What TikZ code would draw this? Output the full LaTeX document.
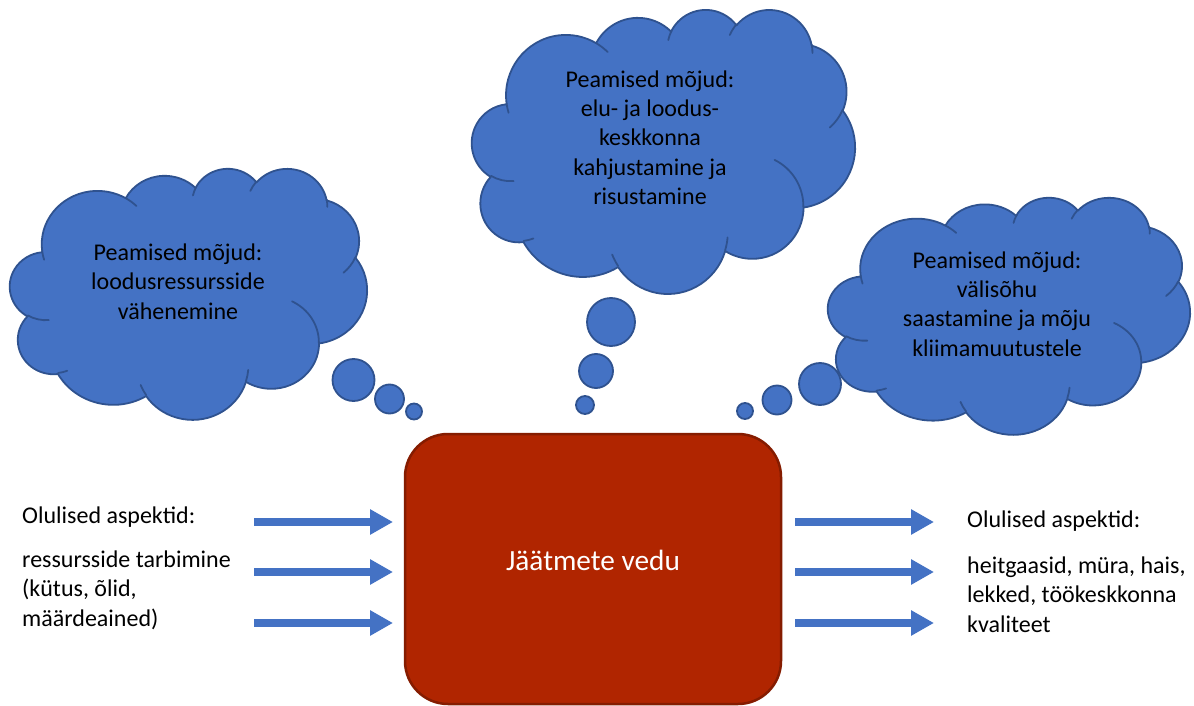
\documentclass[tikz,border=0pt]{standalone}
\usepackage{fontspec}
\setmainfont{Carlito}
\usetikzlibrary{arrows.meta}
\definecolor{cloudblue}{RGB}{68,114,196}
\definecolor{cloudedge}{RGB}{47,82,143}
\definecolor{boxred}{RGB}{176,37,0}
\definecolor{boxedge}{RGB}{133,28,0}
\tikzset{
  cloudshape/.style={fill=cloudblue, draw=cloudedge, line width=1.8pt, line join=round},
  cloudinner/.style={draw=cloudedge, line width=1.8pt, line cap=round},
  bubble/.style={circle, fill=cloudblue, draw=cloudedge, line width=1.8pt, inner sep=0pt},
  procbox/.style={rectangle, rounded corners=43pt, fill=boxred, draw=boxedge, line width=2.5pt,
    text=white, font=\fontsize{29.3}{35}\selectfont, text height=21pt, text depth=18pt},
  txt/.style={inner sep=0pt, font=\fontsize{24}{29.3}\selectfont, text=black},
  blockarrow/.style={draw=cloudblue, line width=8pt, -{Triangle[length=23pt,width=24pt]}}
}
% Office cloud shape: #1,#2 = top-left (px), #3,#4 = width, height (px)
\newcommand\officecloud[4]{%
  \pgfmathsetmacro\ocsx{#3/43.2}%
  \pgfmathsetmacro\ocsy{#4/43.2}%
  \begin{scope}[shift={(#1pt,-#2pt)}, x=\ocsx pt, y=-\ocsy pt]
    \filldraw[cloudshape] (3.9,14.37)
      arc[start angle=172.254, delta angle=128.110, x radius=6.753, y radius=9.19]
      arc[start angle=-152.019, delta angle=106.560, x radius=5.333, y radius=7.267]
      arc[start angle=-153.494, delta angle=116.170, x radius=4.365, y radius=5.945]
      arc[start angle=-139.715, delta angle=129.503, x radius=4.857, y radius=6.595]
      arc[start angle=-74.768, delta angle=97.976, x radius=5.333, y radius=7.273]
      arc[start angle=-37.502, delta angle=119.364, x radius=6.775, y radius=9.22]
      arc[start angle=0.460, delta angle=121.519, x radius=5.785, y radius=7.867]
      arc[start angle=16.849, delta angle=129.380, x radius=6.752, y radius=9.215]
      arc[start angle=59.022, delta angle=91.172, x radius=7.72, y radius=10.543]
      arc[start angle=83.305, delta angle=139.771, x radius=4.36, y radius=5.918]
      arc[start angle=120.353, delta angle=143.760, x radius=4.345, y radius=5.945]
      -- cycle;
    \draw[cloudinner]
      (4.693,26.177) arc[start angle=85.544, delta angle=34.809, x radius=4.345, y radius=5.945]
      (6.928,34.899) arc[start angle=68.25, delta angle=15.055, x radius=4.36, y radius=5.918]
      (16.478,39.09) arc[start angle=146.229, delta angle=12.245, x radius=6.752, y radius=9.215]
      (28.827,34.751) arc[start angle=4.737, delta angle=12.112, x radius=6.752, y radius=9.215]
      (34.129,22.954) arc[start angle=-63.998, delta angle=64.458, x radius=5.785, y radius=7.867]
      (41.798,15.354) arc[start angle=23.208, delta angle=26.433, x radius=5.333, y radius=7.273]
      (38.324,5.426) arc[start angle=-10.212, delta angle=11.033, x radius=4.857, y radius=6.595]
      (29.078,3.952) arc[start angle=-156.273, delta angle=16.558, x radius=4.857, y radius=6.595]
      (22.141,4.72) arc[start angle=-167.726, delta angle=14.232, x radius=4.365, y radius=5.945]
      (14.0,5.192) arc[start angle=-59.636, delta angle=13.899, x radius=6.753, y radius=9.19]
      (4.127,15.789) arc[start angle=163.196, delta angle=9.058, x radius=6.753, y radius=9.19];
  \end{scope}}
\begin{document}
\begin{tikzpicture}[x=1pt, y=-1pt]
  \useasboundingbox[fill=white] (0,0) rectangle (1194,706);

  % clouds
  \officecloud{10}{168}{357}{251}
  \officecloud{472}{9}{383}{284}
  \officecloud{828}{197}{362}{237}

  % thought bubbles
  \node[bubble, minimum size=42pt] (lb1) at (353.5,380) {};
  \node[bubble, minimum size=29pt] (lb2) at (389.5,399) {};
  \node[bubble, minimum size=16pt] (lb3) at (414,411.5) {};
  \node[bubble, minimum size=48pt] (tb1) at (611,322) {};
  \node[bubble, minimum size=34pt] (tb2) at (596,371) {};
  \node[bubble, minimum size=18pt] (tb3) at (585,405) {};
  \node[bubble, minimum size=42pt] (rb1) at (820,384) {};
  \node[bubble, minimum size=29pt] (rb2) at (777,400) {};
  \node[bubble, minimum size=16pt] (rb3) at (745,411) {};

  % cloud texts
  \node[txt, align=center] (lcloud) at (178,281.5) {Peamised mõjud:\\loodusressursside\\vähenemine};
  \node[txt, align=center] (tcloud) at (650,137.5) {Peamised mõjud:\\elu- ja loodus-\\keskkonna\\kahjustamine ja\\risustamine};
  \node[txt, align=center] (rcloud) at (997,304) {Peamised mõjud:\\välisõhu\\saastamine ja mõju\\kliimamuutustele};

  % central process box
  \node[procbox, minimum width=376pt, minimum height=270pt] (box) at (593,569) {Jäätmete vedu};

  % side texts (base = baseline of last line)
  \node[txt, anchor=base west] (lhead) at (22,523) {Olulised aspektid:};
  \node[txt, anchor=base west, align=left] (lbody) at (22,626) {ressursside tarbimine\\(kütus, õlid,\\määrdeained)};
  \node[txt, anchor=base west] (rhead) at (967,527.5) {Olulised aspektid:};
  \node[txt, anchor=base west, align=left] (rbody) at (967,632) {heitgaasid, müra, hais,\\lekked, töökeskkonna\\kvaliteet};

  % arrow end points
  \coordinate (la1) at (254,522); \coordinate (lb1e) at (393,522);
  \coordinate (la2) at (254,572); \coordinate (lb2e) at (393,572);
  \coordinate (la3) at (254,623); \coordinate (lb3e) at (393,623);
  \coordinate (ra1) at (795,522); \coordinate (rb1e) at (934,522);
  \coordinate (ra2) at (795,572); \coordinate (rb2e) at (934,572);
  \coordinate (ra3) at (795,623); \coordinate (rb3e) at (934,623);
  \draw[blockarrow] (la1) -- (lb1e);
  \draw[blockarrow] (la2) -- (lb2e);
  \draw[blockarrow] (la3) -- (lb3e);
  \draw[blockarrow] (ra1) -- (rb1e);
  \draw[blockarrow] (ra2) -- (rb2e);
  \draw[blockarrow] (ra3) -- (rb3e);
\end{tikzpicture}
\end{document}
